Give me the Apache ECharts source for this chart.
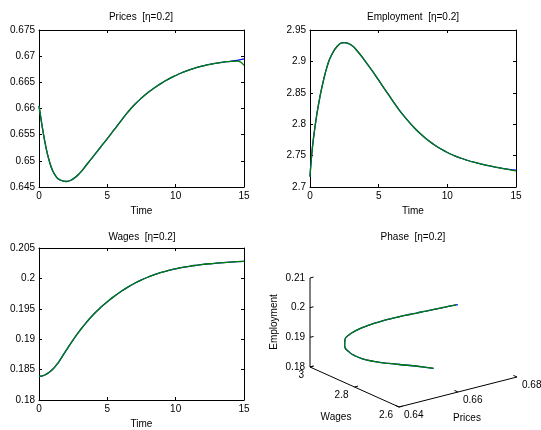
<!DOCTYPE html>
<html>
<head>
<meta charset="utf-8">
<script src="https://cdn.jsdelivr.net/npm/echarts@6/dist/echarts.min.js"></script>
<style>
html, body { margin: 0; padding: 0; background: #fff; }
#main { width: 541px; height: 430px; }
</style>
</head>
<body>
<div id="main"></div>
<script>
var times = [0, 0.1, 0.25, 0.5, 0.75, 1, 1.25, 1.5, 2, 2.5, 3, 3.5, 4, 4.5, 5, 5.5, 6, 6.5,
  7, 7.5, 8, 8.5, 9, 9.5, 10, 10.5, 11, 11.5, 12, 12.5, 13, 13.5, 14, 14.5, 15];

// blue = first run, green = second run
var pricesBlue = [0.6605, 0.6588, 0.6563, 0.6527, 0.6500, 0.6481, 0.6470, 0.6464, 0.64605, 0.64655,
  0.6477, 0.6493, 0.65095, 0.6526, 0.65425, 0.65595, 0.65765, 0.6593, 0.66075, 0.662, 0.6631, 0.66405,
  0.6649, 0.66565, 0.6663, 0.66688, 0.66738, 0.6678, 0.66815, 0.66845, 0.66868, 0.66887, 0.66902, 0.6692, 0.6695];
var pricesGreen = [0.6605, 0.6588, 0.6563, 0.6527, 0.6500, 0.6481, 0.6470, 0.6464, 0.64605, 0.64655,
  0.6477, 0.6493, 0.65095, 0.6526, 0.65425, 0.65595, 0.65765, 0.6593, 0.66075, 0.662, 0.6631, 0.66405,
  0.6649, 0.66565, 0.6663, 0.66688, 0.66738, 0.6678, 0.66815, 0.66845, 0.66868, 0.66887, 0.66902, 0.66905, 0.66826];

var emplBlue = [2.717, 2.745, 2.777, 2.816, 2.8465, 2.8715, 2.892, 2.907, 2.9245, 2.930, 2.926, 2.915,
  2.901, 2.886, 2.870, 2.854, 2.838, 2.8225, 2.809, 2.7965, 2.7855, 2.776, 2.768, 2.761, 2.755, 2.750,
  2.7458, 2.7422, 2.7391, 2.7364, 2.734, 2.7318, 2.7298, 2.7282, 2.7268];
var emplGreen = [2.716, 2.745, 2.777, 2.816, 2.8465, 2.8715, 2.892, 2.907, 2.9245, 2.930, 2.926, 2.915,
  2.901, 2.886, 2.870, 2.854, 2.838, 2.8225, 2.809, 2.7965, 2.7855, 2.776, 2.768, 2.761, 2.755, 2.750,
  2.7458, 2.7422, 2.7391, 2.7364, 2.734, 2.7318, 2.7298, 2.7278, 2.7256];

var wagesBlue = [0.1839, 0.18392, 0.18398, 0.1842, 0.18455, 0.18505, 0.1857, 0.18645, 0.1882, 0.1899,
  0.19145, 0.19285, 0.1941, 0.1952, 0.19617, 0.19705, 0.19785, 0.19857, 0.1992, 0.19975, 0.20023, 0.20065,
  0.20101, 0.20132, 0.20158, 0.2018, 0.20199, 0.20215, 0.20229, 0.20241, 0.20251, 0.2026, 0.20268, 0.20275, 0.20281];
var wagesGreen = wagesBlue.slice();

var timeTicks = [0, 15, 5];
var priceAxis = [0.645, 0.675, 0.005];
var emplAxis = [2.7, 2.95, 0.05];
var wageAxis = [0.18, 0.205, 0.005];

// phase plot box
var phasePrices = [0.64, 0.66, 0.68];
var phaseEmpl = [2.6, 2.8, 3];
var phaseWages = [0.18, 0.19, 0.2, 0.21];

var FONT = '"Liberation Sans", Arial, Helvetica, sans-serif';
var BLUE = '#0000ff', GREEN = '#008000';

// simple fixed projection for the 3D phase box (panel pixel units)
var origin = [129, 192];
var vecP = [118, -30], vecE = [-89, -40], vecW = [0, -89];
function project(p, e, w) {
  var pf = (p - 0.64) / 0.04, ef = (e - 2.6) / 0.4, wf = (w - 0.18) / 0.03;
  return [origin[0] + pf * vecP[0] + ef * vecE[0] + wf * vecW[0],
          origin[1] + pf * vecP[1] + ef * vecE[1] + wf * vecW[1]];
}

var grids = [
  { left: 39, top: 30, width: 205, height: 157 },
  { left: 310, top: 30, width: 206, height: 157 },
  { left: 39, top: 248, width: 205, height: 158 },
  { left: 270, top: 215, width: 271, height: 215 }
];

var xAxes = [], yAxes = [];
[priceAxis, emplAxis, wageAxis].forEach(function (r, i) {
  var line = { show: true, onZero: false, lineStyle: { color: '#000', width: 1 } };
  var tick = { show: true, inside: true, length: 3, lineStyle: { color: '#000' } };
  var lab = { color: '#000', fontSize: 10, fontFamily: FONT, margin: 4 };
  xAxes.push({ gridIndex: i, type: 'value', min: timeTicks[0], max: timeTicks[1], interval: timeTicks[2],
    position: 'bottom', axisLine: line, axisTick: tick, axisLabel: lab, splitLine: { show: false },
    name: 'Time', nameLocation: 'middle', nameGap: 19,
    nameTextStyle: { color: '#000', fontSize: 10, fontFamily: FONT } });
  xAxes.push({ gridIndex: i, type: 'value', min: timeTicks[0], max: timeTicks[1], interval: timeTicks[2],
    position: 'top', axisLine: line, axisTick: tick, axisLabel: { show: false }, splitLine: { show: false } });
  yAxes.push({ gridIndex: i, type: 'value', min: r[0], max: r[1], interval: r[2], position: 'left',
    axisLine: line, axisTick: tick, axisLabel: lab, splitLine: { show: false } });
  yAxes.push({ gridIndex: i, type: 'value', min: r[0], max: r[1], interval: r[2], position: 'right',
    axisLine: line, axisTick: tick, axisLabel: { show: false }, splitLine: { show: false } });
});
xAxes.push({ gridIndex: 3, type: 'value', min: 0, max: 271, show: false });
yAxes.push({ gridIndex: 3, type: 'value', min: 0, max: 215, inverse: true, show: false });

function pairs(xs, ys) {
  return xs.map(function (x, i) { return [x, ys[i]]; });
}
function phaseData(ps, es, ws) {
  return ps.map(function (p, i) { return project(p, es[i], ws[i]); });
}
function lineSeries(axis, data, color) {
  return { type: 'line', xAxisIndex: axis, yAxisIndex: axis, data: data, smooth: 0.5,
    showSymbol: false, symbol: 'none', lineStyle: { color: color, width: 1.3 }, silent: true };
}

var series = [
  lineSeries(0, pairs(times, pricesBlue), BLUE),
  lineSeries(0, pairs(times, pricesGreen), GREEN),
  lineSeries(2, pairs(times, emplBlue), BLUE),
  lineSeries(2, pairs(times, emplGreen), GREEN),
  lineSeries(4, pairs(times, wagesBlue), BLUE),
  lineSeries(4, pairs(times, wagesGreen), GREEN),
  lineSeries(6, phaseData(pricesBlue, emplBlue, wagesBlue), BLUE),
  lineSeries(6, phaseData(pricesGreen, emplGreen, wagesGreen), GREEN)
];

// 3D box axes, ticks and tick labels
series.push({
  type: 'custom', xAxisIndex: 6, yAxisIndex: 6, data: [[0, 0]], silent: true, clip: false,
  renderItem: function (params, api) {
    var pMin = phasePrices[0], pMax = phasePrices[phasePrices.length - 1];
    var eMin = phaseEmpl[0], eMax = phaseEmpl[phaseEmpl.length - 1];
    var wMin = phaseWages[0], wMax = phaseWages[phaseWages.length - 1];
    var kids = [];
    function pt(p, e, w) { return api.coord(project(p, e, w)); }
    function seg(a, b) {
      kids.push({ type: 'line', shape: { x1: a[0], y1: a[1], x2: b[0], y2: b[1] },
        style: { stroke: '#000', lineWidth: 1 } });
    }
    function txt(s, x, y, align) {
      kids.push({ type: 'text', x: x, y: y, style: { text: s, fill: '#000',
        font: '10px ' + FONT, align: align, verticalAlign: 'middle' } });
    }
    seg(pt(pMin, eMax, wMin), pt(pMin, eMax, wMax));
    seg(pt(pMin, eMax, wMin), pt(pMin, eMin, wMin));
    seg(pt(pMin, eMin, wMin), pt(pMax, eMin, wMin));
    var dp = (pMax - pMin) * 0.03, de = (eMax - eMin) * 0.04;
    phaseWages.forEach(function (w) {
      var a = pt(pMin, eMax, w);
      seg(a, pt(pMin + dp, eMax, w));
      txt(String(w), a[0] - 5, a[1], 'right');
    });
    phaseEmpl.forEach(function (e) {
      var a = pt(pMin, e, wMin);
      seg(a, pt(pMin + dp, e, wMin));
      txt(String(e), a[0] - 6, a[1] + 8, 'right');
    });
    phasePrices.forEach(function (p) {
      var a = pt(p, eMin, wMin);
      seg(a, pt(p, eMin + de, wMin));
      txt(String(p), a[0] + 5, a[1] + 8, 'left');
    });
    return { type: 'group', children: kids };
  }
});

function label(s, x, y, rot) {
  return { type: 'text', x: x, y: y, rotation: rot || 0, silent: true,
    style: { text: s, fill: '#000', font: '10px ' + FONT, align: 'center', verticalAlign: 'middle' } };
}

var chart = echarts.init(document.getElementById('main'));
chart.setOption({
  animation: false,
  backgroundColor: '#fff',
  grid: grids,
  xAxis: xAxes,
  yAxis: yAxes,
  series: series,
  graphic: [
    label('Prices  [η=0.2]', 141, 17),
    label('Employment  [η=0.2]', 413, 17),
    label('Wages  [η=0.2]', 142, 237),
    label('Phase  [η=0.2]', 413, 237),
    label('Employment', 274, 322, Math.PI / 2),
    label('Wages', 336, 417),
    label('Prices', 467, 418)
  ]
});
window.onresize = chart.resize;
</script>
</body>
</html>
